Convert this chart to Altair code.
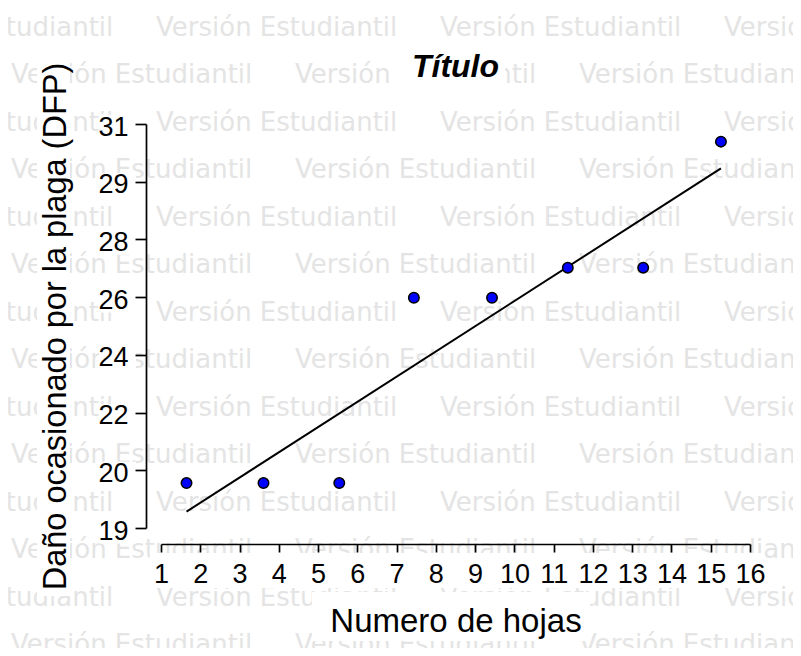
import altair as alt
import pandas as pd

# ---- data ----
hojas = [1.65, 3.61, 5.54, 7.44, 9.43, 11.36, 13.28, 15.26]
dano = [20.0, 20.0, 20.0, 25.78, 25.78, 26.72, 26.72, 30.65]
y_ticks = [18.6, 20.4, 22.2, 24.0, 25.8, 27.6, 29.4, 31.2]
x_ticks = list(range(1, 17))

FONT = "Liberation Sans"
W, H = 589, 404
OX, OY = 161, 124  # plot origin in page pixels
Y_TITLE = "Daño ocasionado por la plaga (DFP)"
X_TITLE = "Numero de hojas"

df = pd.DataFrame({"hojas": hojas, "dano": dano})
ticks_df = pd.DataFrame({"t": y_ticks})

# watermark grid (decoration)
wm_rows = []
for r in range(14):
    yb = 36 + 47.46 * r
    x0 = -128 if r % 2 == 0 else 11
    for j in range(4):
        wm_rows.append({"px": x0 + 284 * j - OX, "py": yb - OY, "txt": "Versión Estudiantil"})
wm = pd.DataFrame(wm_rows)

# opaque label backgrounds (decoration, page pixels)
boxes = pd.DataFrame([
    {"x1": 397, "x2": 505, "y1": 50, "y2": 88},
    {"x1": 37, "x2": 70, "y1": 52, "y2": 596},
    {"x1": 150, "x2": 765, "y1": 553, "y2": 588},
    {"x1": 312, "x2": 590, "y1": 592, "y2": 641},
])
for c in ["x1", "x2"]:
    boxes[c] = boxes[c] - OX
for c in ["y1", "y2"]:
    boxes[c] = boxes[c] - OY

xscale = alt.Scale(domain=[1, 16], nice=False, zero=False)
yscale = alt.Scale(domain=[18.6, 31.2], nice=False, zero=False)

x_axis = alt.Axis(values=x_ticks, format="d", offset=16, tickSize=8,
                  labelPadding=9, titleY=61, titleBaseline="top",
                  titleAnchor="middle", zindex=1, labelOverlap=False,
                  labelFlush=False, labelBound=False, grid=False,
                  labelFontSize=27, titleFontSize=33)
y_axis = alt.Axis(values=y_ticks, format=".0f", offset=15, tickSize=11,
                  labelPadding=7, labelOffset=3, titleX=-81, titleY=H / 2,
                  titleBaseline="alphabetic", titleAngle=270,
                  titleAlign="center", zindex=1, labelOverlap=False,
                  labelFlush=False, labelBound=False, grid=False,
                  labelFontSize=27, titleFontSize=32.5)

watermark = alt.Chart(wm).mark_text(
    font="DejaVu Sans", fontSize=26, color="#e4e4e4", align="left", baseline="alphabetic"
).encode(
    x=alt.X("px:Q", scale=None, axis=None),
    y=alt.Y("py:Q", scale=None, axis=None),
    text="txt:N",
)

white = alt.Chart(boxes).mark_rect(color="white").encode(
    x=alt.X("x1:Q", scale=None, axis=None),
    x2="x2:Q",
    y=alt.Y("y1:Q", scale=None, axis=None),
    y2="y2:Q",
)

label_boxes = alt.Chart(ticks_df).transform_calculate(
    lo="datum.t - 0.48", hi="datum.t + 0.27"
).mark_rect(color="white").encode(
    x=alt.value(99 - OX),
    x2=alt.value(136 - OX),
    y=alt.Y("lo:Q", scale=yscale, title=Y_TITLE, axis=y_axis),
    y2="hi:Q",
)

title_mark = alt.Chart(pd.DataFrame({"t": ["Título"]})).mark_text(
    font=FONT, fontSize=32, fontStyle="italic", fontWeight="bold", color="black",
    align="center", baseline="alphabetic"
).encode(
    x=alt.value(W / 2), y=alt.value(77 - OY), text="t:N"
)

line = alt.Chart(df).transform_regression("hojas", "dano").mark_line(
    color="black", strokeWidth=2
).encode(
    x=alt.X("hojas:Q", scale=xscale, title=X_TITLE, axis=x_axis),
    y=alt.Y("dano:Q", scale=yscale, title=Y_TITLE, axis=y_axis),
)

points = alt.Chart(df).mark_point(
    shape="circle", filled=True, fill="#0000ff", stroke="black",
    strokeWidth=1.5, size=110, opacity=1
).encode(
    x=alt.X("hojas:Q", scale=xscale, title=X_TITLE, axis=x_axis),
    y=alt.Y("dano:Q", scale=yscale, title=Y_TITLE, axis=y_axis),
)

chart = alt.layer(watermark, white, label_boxes, title_mark, line, points).properties(
    width=W, height=H,
    autosize=alt.AutoSizeParams(type="none"),
    padding={"left": 153, "top": 116, "right": 43, "bottom": 120},
).configure_view(stroke=None).configure_axis(
    grid=False, domainColor="black", tickColor="black", domainWidth=1.7,
    tickWidth=1.7, labelColor="black", titleColor="black", labelFont=FONT,
    titleFont=FONT, titleFontWeight="normal",
)

chart.save("out.html", embed_options={"renderer": "svg", "actions": False})
